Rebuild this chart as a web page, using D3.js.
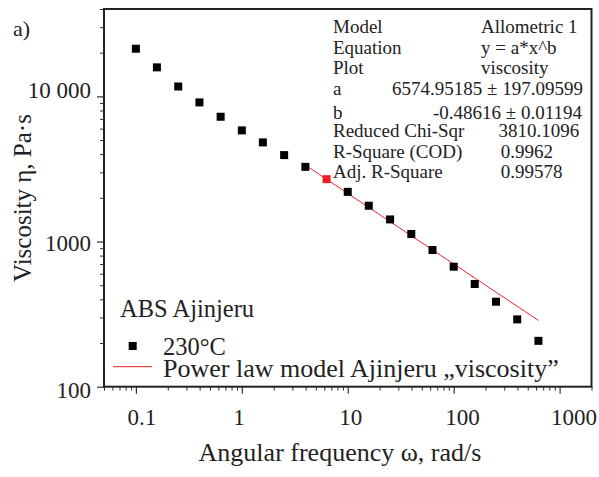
<!DOCTYPE html>
<html>
<head>
<meta charset="utf-8">
<script src="https://cdn.jsdelivr.net/npm/d3@7"></script>
<style>
html,body{margin:0;padding:0;background:#fff;}
svg{display:block;}
text{font-family:"Liberation Serif","Times New Roman",serif;fill:#222;}
</style>
</head>
<body>
<svg id="chart" width="599" height="477"></svg>
<script>
// ---- data ----
const frequency = [0.1, 0.158, 0.251, 0.398, 0.631, 1, 1.58, 2.51, 3.98, 6.31,
                   10, 15.8, 25.1, 39.8, 63.1, 100, 158, 251, 398, 631];
const viscosity = [21300, 15850, 11700, 9090, 7240, 5830, 4820, 3940, 3270, 2690,
                   2200, 1765, 1420, 1127, 874, 671, 510, 385, 291, 207];
const highlighted = [false, false, false, false, false, false, false, false, false, true,
                     false, false, false, false, false, false, false, false, false, false];
const fitA = 6574.95185;
const fitB = -0.48616;
const fitRange = [3.98, 631];
const xTicks = [0.1, 1, 10, 100, 1000];
const xTickLabels = ["0.1", "1", "10", "100", "1000"];
const yTicks = [100, 1000, 10000];
const yTickLabels = ["100", "1000", "10 000"];
const statsLabels = ["Model", "Equation", "Plot", "a", "b", "Reduced Chi-Sqr", "R-Square (COD)", "Adj. R-Square"];
const statsValues = ["Allometric 1", "y = a*x^b", "viscosity", "6574.95185 ± 197.09599", "-0.48616 ± 0.01194", "3810.1096", "0.9962", "0.99578"];
const legendTitle = "ABS Ajinjeru";
const seriesName = "230°C";
const fitName = "Power law model Ajinjeru „viscosity”";
const xTitle = "Angular frequency ω, rad/s";
const yTitle = "Viscosity η, Pa·s";
const panelLabel = "a)";

// ---- layout ----
const svg = d3.select("#chart");
const L = 104, R = 591.5, T = 9, B = 386.7;
const x = d3.scaleLog().domain([0.05, 2000]).range([L, R]);
const y = d3.scaleLog().domain([100, 40000]).range([B, T]);

function minorTicks(domain, majors) {
  const out = [];
  const lo = Math.floor(Math.log10(domain[0])), hi = Math.ceil(Math.log10(domain[1]));
  for (let e = lo; e <= hi; e++) {
    for (let m = 1; m < 10; m++) {
      const v = m * Math.pow(10, e);
      if (v >= domain[0] * 0.9999 && v <= domain[1] * 1.0001 && !majors.includes(v) && m !== 1) out.push(v);
    }
  }
  return out;
}

// minor ticks
svg.append("g").attr("transform", `translate(0,${B})`)
  .call(d3.axisBottom(x).tickValues(minorTicks(x.domain(), xTicks)).tickSize(4).tickSizeOuter(0).tickFormat(""))
  .call(g => g.select(".domain").remove())
  .call(g => g.selectAll("line").attr("stroke", "#333").attr("stroke-width", 1));
svg.append("g").attr("transform", `translate(${L},0)`)
  .call(d3.axisLeft(y).tickValues(minorTicks(y.domain(), yTicks)).tickSize(4).tickSizeOuter(0).tickFormat(""))
  .call(g => g.select(".domain").remove())
  .call(g => g.selectAll("line").attr("stroke", "#333").attr("stroke-width", 1));

// major axes
const xAxis = svg.append("g").attr("transform", `translate(0,${B})`)
  .call(d3.axisBottom(x).tickValues(xTicks).tickSize(7).tickSizeOuter(0)
    .tickFormat((d, i) => xTickLabels[i]));
xAxis.select(".domain").remove();
xAxis.selectAll("line").attr("stroke", "#333").attr("stroke-width", 1.2);
xAxis.selectAll("text").attr("font-family", "Liberation Serif").attr("font-size", 23)
  .attr("fill", "#222").attr("text-anchor", "start").attr("x", -9).attr("y", 22).attr("dy", "0.71em");

const yAxis = svg.append("g").attr("transform", `translate(${L},0)`)
  .call(d3.axisLeft(y).tickValues(yTicks).tickSize(7).tickSizeOuter(0)
    .tickFormat((d, i) => yTickLabels[i]));
yAxis.select(".domain").remove();
yAxis.selectAll("line").attr("stroke", "#333").attr("stroke-width", 1.2);
yAxis.selectAll("text").attr("font-family", "Liberation Serif").attr("font-size", 23)
  .attr("fill", "#222").attr("x", -13).attr("dy", (d, i) => ["0.45em", "0.38em", "0.05em"][i]);

// frame
svg.append("rect").attr("x", L).attr("y", T).attr("width", R - L).attr("height", B - T)
  .attr("fill", "none").attr("stroke", "#222").attr("stroke-width", 2);

// fit line
const fitX = d3.range(0, 101).map(i => Math.exp(Math.log(fitRange[0]) + i / 100 * (Math.log(fitRange[1]) - Math.log(fitRange[0]))));
svg.append("path")
  .datum(fitX)
  .attr("fill", "none").attr("stroke", "#ee1c24").attr("stroke-width", 1)
  .attr("d", d3.line().x(d => x(d)).y(d => y(fitA * Math.pow(d, fitB))));

// points
const sz = 8;
svg.append("g").selectAll("rect")
  .data(frequency.map((f, i) => ({f, v: viscosity[i], h: highlighted[i]})))
  .join("rect")
  .attr("x", d => x(d.f) - sz / 2).attr("y", d => y(d.v) - sz / 2)
  .attr("width", sz).attr("height", sz)
  .attr("fill", d => d.h ? "#ee1c24" : "#000");

// stats box
const st = svg.append("g").attr("font-size", 19);
statsLabels.forEach((s, i) => {
  const yy = 32.7 + i * 20.8 + (i === 4 ? 3 : 0);
  st.append("text").attr("x", 333).attr("y", yy).text(s);
  let tx = 481, anchor = "start";
  if (i === 3) { tx = 583; anchor = "end"; }
  if (i === 4) { tx = 582; anchor = "end"; }
  if (i === 5) { tx = 498.5; }
  if (i >= 6) { tx = 500.7; }
  st.append("text").attr("x", tx).attr("y", yy).attr("text-anchor", anchor).text(statsValues[i]);
});

// legend
svg.append("text").attr("x", 120).attr("y", 317).attr("font-size", 24.5).text(legendTitle);
svg.append("rect").attr("x", 132.7 - sz / 2).attr("y", 346 - sz / 2).attr("width", sz).attr("height", sz).attr("fill", "#000");
svg.append("text").attr("x", 163).attr("y", 355).attr("font-size", 24.5).text(seriesName);
svg.append("line").attr("x1", 113).attr("x2", 152).attr("y1", 366.7).attr("y2", 366.7)
  .attr("stroke", "#ee1c24").attr("stroke-width", 1);
svg.append("text").attr("x", 163).attr("y", 377).attr("font-size", 26).text(fitName);

// titles
svg.append("text").attr("x", 340).attr("y", 461).attr("text-anchor", "middle").attr("font-size", 26).text(xTitle);
svg.append("text").attr("transform", "translate(31,198) rotate(-90)").attr("text-anchor", "middle")
  .attr("font-size", 25).text(yTitle);
svg.append("text").attr("x", 13).attr("y", 36).attr("font-size", 22).text(panelLabel);
</script>
</body>
</html>
